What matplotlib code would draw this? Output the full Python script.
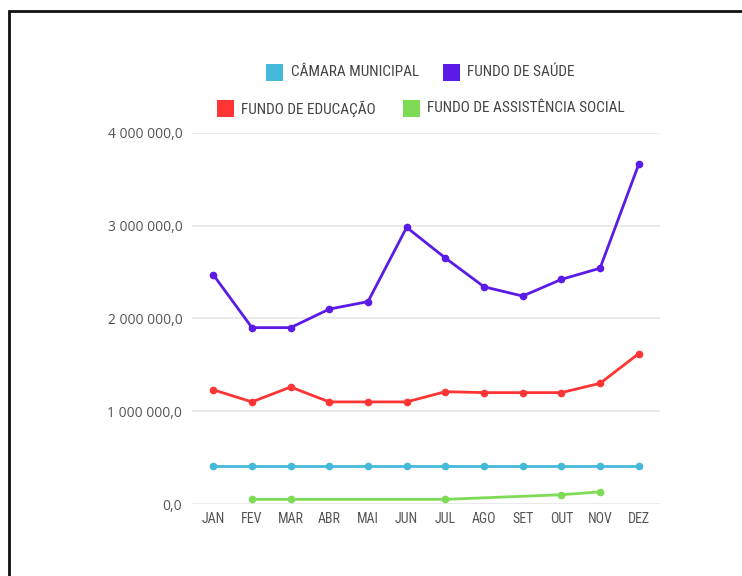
import numpy as np
import matplotlib
matplotlib.use("Agg")
import matplotlib.pyplot as plt
from matplotlib import font_manager
from matplotlib.patches import Rectangle
from matplotlib.ticker import FuncFormatter

months = ["JAN", "FEV", "MAR", "ABR", "MAI", "JUN", "JUL", "AGO", "SET", "OUT", "NOV", "DEZ"]
camara = [410000] * 12
saude = [2470000, 1900000, 1900000, 2100000, 2180000, 2980000, 2650000, 2340000, 2240000, 2420000, 2540000, 3660000]
educacao = [1230000, 1100000, 1260000, 1100000, 1100000, 1100000, 1210000, 1200000, 1200000, 1200000, 1300000, 1620000]
assistencia = [None, 50000, 50000, None, None, None, 50000, None, None, 100000, 130000, None]
series_names = ["CÂMARA MUNICIPAL", "FUNDO DE SAÚDE", "FUNDO DE EDUCAÇÃO", "FUNDO DE ASSISTÊNCIA SOCIAL"]
y_ticks = [0, 1000000, 2000000, 3000000, 4000000]

colors = ["#45b9d9", "#5b1be6", "#ff3434", "#7ddb55"]

avail = {f.name for f in font_manager.fontManager.ttflist}
fam = None
for cand in ["Liberation Sans Narrow", "Roboto Condensed", "Open Sans Condensed", "Roboto", "Lato"]:
    if cand in avail:
        fam = cand
        break
plt.rcParams['font.family'] = [fam, 'DejaVu Sans'] if fam else ['DejaVu Sans']
ytick_fam = ["Open Sans", "DejaVu Sans"] if "Open Sans" in avail else plt.rcParams['font.family']

W, H = 742, 576
fig = plt.figure(figsize=(W / 100, H / 100), dpi=100)
fig.patch.set_facecolor("white")

def fx(px):
    return px / W

def fy(py):
    return 1 - py / H

ax = fig.add_axes([fx(192), fy(504), fx(660) - fx(192), fy(132.7) - fy(504)])
x = np.arange(len(months))

for vals, c in zip([camara, saude, educacao], colors[:3]):
    ax.plot(x, vals, color=c, lw=2.0, marker="o", markersize=4.5, zorder=3, solid_capstyle="round")

ax_idx = [i for i, v in enumerate(assistencia) if v is not None]
ax_val = [assistencia[i] for i in ax_idx]
ax.plot(ax_idx, ax_val, color=colors[3], lw=2.0, marker="o", markersize=4.5, zorder=3)

ax.set_xlim(-0.55, 11.55)
ax.set_ylim(0, 4000000)
ax.set_yticks(y_ticks)
ax.yaxis.set_major_formatter(FuncFormatter(
    lambda v, p: f"{v:,.1f}".replace(",", " ").replace(".", ",")))
ax.set_xticks(x)
ax.set_xticklabels(months)
ax.grid(axis="y", color="#e6e6e6", lw=1.2)
ax.set_axisbelow(True)
for s in ["top", "right", "left", "bottom"]:
    ax.spines[s].set_visible(False)
ax.tick_params(axis="both", length=0, labelsize=10, colors="#555555")
ax.tick_params(axis="y", pad=7)
ax.tick_params(axis="x", pad=5.5)
for lab in ax.get_yticklabels():
    lab.set_family(ytick_fam)
    lab.set_fontsize(10)

# legend
legend_items = [
    (266, 64, 291, series_names[0], colors[0]),
    (443, 64, 467, series_names[1], colors[1]),
    (217, 100, 241, series_names[2], colors[2]),
    (403, 100, 427, series_names[3], colors[3]),
]
for sx, sy, tx, label, c in legend_items:
    fig.patches.append(Rectangle((fx(sx), fy(sy + 16.5)), fx(16.5), 16.5 / H,
                                 transform=fig.transFigure, facecolor=c, edgecolor="none"))
    fig.text(fx(tx), fy(sy + 8.5), label, fontsize=11, color="#444444", va="center", ha="left")

# frame
fig.patches.append(Rectangle((fx(9), -0.1), 1.2, fy(10.5) + 0.1, transform=fig.transFigure,
                             facecolor="none", edgecolor="#111111", lw=2))

fig.savefig("out.png", dpi=100)
